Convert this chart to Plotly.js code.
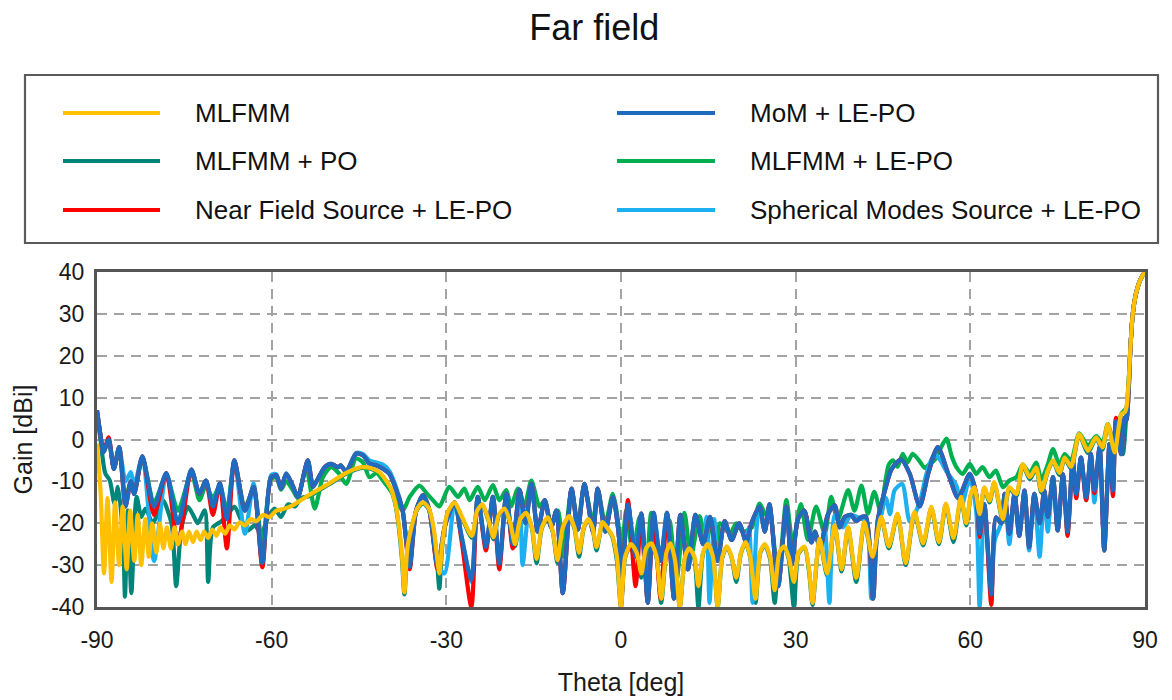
<!DOCTYPE html>
<html>
<head>
<meta charset="utf-8">
<script src="https://cdn.plot.ly/plotly-3.0.1.min.js"></script>
<style>html,body{margin:0;padding:0;background:#fff;}#chart{width:1172px;height:700px;}</style>
</head>
<body>
<div id="chart"></div>
<script>
// ---------------- DATA ----------------
const seriesNames = ['MLFMM', 'MLFMM + PO', 'Near Field Source + LE-PO',
                     'MoM + LE-PO', 'MLFMM + LE-PO', 'Spherical Modes Source + LE-PO'];
const xTickVals = [-90, -60, -30, 0, 30, 60, 90];
const yTickVals = [-40, -30, -20, -10, 0, 10, 20, 30, 40];

// MLFMM (yellow)
const thetaMLFMM = [
-90.0,-89.4,-88.8,-88.2,-87.5,-86.9,-86.2,-85.6,-84.9,-84.3,
-83.6,-83.0,-82.4,-81.7,-81.1,-80.5,-79.8,-79.2,-78.6,-78.0,
-77.3,-76.7,-76.1,-75.4,-74.8,-74.2,-73.5,-72.9,-72.2,-71.6,
-70.9,-70.2,-69.5,-68.8,-68.0,-67.2,-66.4,-65.5,-64.6,-63.6,
-62.6,-61.5,-60.4,-59.2,-58.0,-56.5,-55.0,-53.5,-52.0,-50.5,
-49.0,-47.5,-46.0,-44.5,-43.0,-41.5,-40.5,-39.6,-38.8,-38.2,
-37.6,-37.2,-36.7,-36.0,-35.0,-34.0,-33.0,-32.2,-31.6,-31.2,
-30.7,-29.8,-28.6,-27.3,-25.6,-24.7,-23.8,-22.8,-21.9,-21.0,
-20.0,-19.0,-18.2,-17.3,-16.3,-15.3,-14.5,-13.6,-12.6,-11.7,
-10.9,-10.0,-8.9,-8.0,-7.2,-6.4,-5.6,-4.9,-4.2,-3.7,
-3.2,-2.4,-1.5,-0.7,0.0,0.7,1.7,2.7,3.5,4.3,
5.2,6.1,6.9,7.8,8.5,9.3,10.1,11.0,11.7,12.6,
13.3,14.1,14.9,15.8,16.6,17.4,18.2,19.0,19.8,20.6,
21.4,22.2,23.1,23.9,24.7,25.6,26.4,27.2,28.0,28.8,
29.7,30.5,31.5,32.3,32.9,34.1,35.4,36.7,37.9,39.0,
40.4,41.8,43.2,44.7,46.0,47.5,48.9,50.4,51.9,53.3,
54.6,55.8,57.1,58.4,59.3,60.1,60.7,61.6,62.4,63.3,
64.1,65.6,66.7,67.9,69.0,70.2,71.3,72.2,73.3,74.2,
75.3,76.2,77.3,78.7,80.2,81.6,82.7,83.6,84.8,85.9,
86.5,86.8,87.2,87.5,87.9,88.4,89.0,89.5,90.0];
const gainMLFMM = [
-1,-12,-32,-14,-34,-15,-30,-16,-31,-17,
-29,-18,-30,-19,-28,-20,-27,-20,-26,-21,
-26,-21,-25,-22,-25,-22,-24.5,-22,-24,-22,
-23.5,-21.5,-23,-21,-22.5,-20.5,-21.5,-19.8,-20.5,-19,
-19.5,-18,-18.5,-17,-16.6,-15.8,-14.5,-13.2,-12,-10.8,
-9.5,-8.2,-7.2,-6.6,-6.8,-7.8,-9.5,-11.5,-15,-20,
-28,-36.5,-26,-21,-16.5,-15,-16.5,-21,-28,-32,
-25,-17.5,-15,-18.5,-23,-17,-15.5,-19,-23.3,-18,
-16.5,-20,-25,-19,-17.5,-21,-28.5,-21,-18.6,-22,
-28.8,-21,-18.3,-21,-27,-21,-19,-21,-25.7,-23,
-19.7,-21,-23,-28,-40,-28,-25,-27,-32,-26,
-24.8,-28,-38,-27,-24.8,-29,-40,-28,-26,-28,
-35,-27,-25,-28,-40,-28,-25.5,-28,-33,-27,
-24.5,-28,-38,-27,-25,-28,-36,-27,-25.5,-28,
-34,-27,-25.6,-31,-39,-23.7,-32,-20.5,-31,-20.9,
-33,-19.7,-28,-18.5,-25.5,-17.7,-29.5,-17.3,-24.8,-16.1,
-24.5,-15.3,-23.5,-13.7,-20,-13,-11.4,-17.8,-11.4,-14.6,
-10.2,-19,-11.4,-13,-5.9,-9,-6.7,-12.2,-7.5,-5,
-8,-4.3,-6.5,1.3,-2.7,0.5,-1.9,3.7,-3.1,6,
6.5,7.6,14,22,30,34.5,37.5,39,40];

// MLFMM + PO (teal)
const thetaMLFMMPO = [
-90.0,-89.4,-88.6,-87.8,-87.0,-86.4,-85.5,-85.2,-84.7,-84.1,
-83.2,-82.4,-81.7,-81.2,-80.5,-79.8,-78.7,-77.2,-76.4,-75.5,
-74.4,-73.5,-72.7,-71.5,-70.9,-70.1,-68.6,-67.5,-66.4,-65.2,
-64.1,-62.9,-61.8,-60.6,-59.5,-58.4,-57.2,-56.0,-55.0,-53.5,
-52.0,-50.5,-49.0,-47.5,-46.0,-44.5,-43.0,-41.5,-40.5,-39.6,
-38.8,-38.2,-37.6,-37.2,-36.7,-36.0,-35.0,-34.0,-33.0,-32.2,
-31.6,-31.2,-30.7,-29.8,-28.6,-27.3,-25.6,-24.7,-23.8,-22.8,
-21.9,-21.0,-20.0,-19.0,-18.2,-17.3,-16.3,-15.3,-14.5,-13.6,
-12.6,-11.7,-10.9,-10.0,-8.9,-8.0,-7.2,-6.4,-5.6,-4.9,
-4.2,-3.7,-3.2,-2.4,-1.5,-0.7,0.0,0.7,1.7,2.7,
3.5,4.3,5.2,6.1,6.9,7.8,8.5,9.3,10.1,11.0,
11.7,12.6,13.3,14.1,14.9,15.8,16.6,17.4,18.2,19.0,
19.8,20.6,21.4,22.2,23.1,23.9,24.7,25.6,26.4,27.2,
28.0,28.8,29.7,30.5,31.5,32.3,32.9,34.1,35.4,36.7,
37.9,39.0,40.4,41.8,43.2,44.7,46.0,47.5,48.9,50.4,
51.9,53.3,54.6,55.8,57.1,58.4,59.3,60.1,60.7,61.6,
62.4,63.3,64.1,65.6,66.7,67.9,69.0,70.2,71.3,72.2,
73.3,74.2,75.3,76.2,77.3,78.7,80.2,81.6,82.7,83.6,
84.8,85.5,86.2,86.8,87.2,87.5,87.9,88.4,89.0,89.5,
90.0];
const gainMLFMMPO = [
6,0,-8,-9.8,-15.3,-11.3,-24,-37.5,-17,-36.7,
-13.7,-18.5,-16.5,-17.7,-20,-18.5,-14.5,-20,-35,-21,
-16.1,-18,-20,-16.9,-34,-21,-19.5,-17.7,-16.1,-19.3,
-21.7,-20.5,-22.5,-18.5,-16.5,-18.5,-15.5,-16,-14,-13.5,
-12.2,-11,-9.7,-8.4,-7.4,-6.8,-7,-8,-9.7,-11.7,
-15.2,-20.5,-29,-37,-26.5,-21.2,-16.7,-15.2,-16.7,-21.5,
-29,-35.6,-25.5,-17.7,-15.2,-18.7,-23.5,-17.2,-15.7,-19.2,
-23.8,-18.2,-16.7,-20.2,-25.5,-19.2,-17.7,-21.2,-29.6,-21.2,
-18.8,-22.2,-29.5,-21.2,-18.5,-21.2,-28,-21.2,-19.2,-21.2,
-26.5,-23.2,-19.9,-21.2,-23.2,-29,-40,-28.2,-25.2,-27.2,
-33,-26.2,-25,-28.2,-39,-27.2,-25,-29.2,-40,-28.2,
-26.2,-28.5,-40,-27.2,-25.2,-28.2,-40,-28.2,-25.7,-28.2,
-34,-27.2,-24.7,-28.2,-39,-27.2,-25.2,-28.5,-39,-27.2,
-25.7,-28.5,-40,-27.2,-25.8,-31.5,-39.5,-23.9,-32.5,-20.7,
-31.5,-21.1,-34,-19.9,-28.5,-18.7,-26,-17.9,-30,-17.5,
-25.3,-16.3,-25,-15.5,-24.5,-13.9,-20.5,-13.2,-11.6,-18.3,
-11.6,-15,-10.4,-19.5,-11.6,-13.5,-6.1,-9.5,-6.9,-12.7,
-7.7,-5.2,-8.5,-4.5,-7,1.1,-3.2,0.3,-2.4,3.5,
-2,3,-3.5,6,14,22,30,34.5,37.5,39,
40];

// MoM + LE-PO (blue); Near Field Source + LE-PO (red) uses the same theta samples
const thetaMoM = [
-90.0,-89.4,-88.9,-88.0,-87.1,-86.2,-85.1,-84.2,-83.6,-82.2,
-80.2,-78.1,-76.1,-73.8,-72.4,-71.3,-70.1,-68.9,-67.7,-66.4,
-64.6,-63.1,-61.6,-60.1,-59.2,-58.4,-57.5,-56.4,-55.5,-53.8,
-52.9,-52.1,-50.9,-49.8,-48.6,-48.1,-47.2,-45.5,-44.3,-43.2,
-42.0,-40.9,-39.8,-38.6,-37.5,-36.3,-35.2,-34.0,-32.9,-31.5,
-30.3,-28.6,-27.4,-25.7,-24.6,-23.2,-22.0,-20.9,-19.7,-18.6,
-17.4,-16.4,-15.4,-14.3,-13.1,-12.0,-11.1,-10.0,-8.5,-7.4,
-6.3,-4.8,-4.0,-2.7,-1.4,-0.3,0.0,1.2,2.5,3.5,
4.6,5.6,6.8,7.9,9.1,10.2,11.5,12.8,14.1,15.3,
16.6,17.8,19.0,20.3,21.5,22.4,23.8,24.7,25.5,27.0,
28.4,29.3,30.4,31.5,32.7,33.3,34.2,35.5,36.7,37.6,
38.4,39.5,40.4,41.3,42.1,43.3,44.1,45.5,46.5,48.1,
49.6,51.3,52.8,54.4,56.4,57.9,59.9,61.0,61.6,62.4,
63.6,64.4,65.3,65.9,66.7,67.6,68.4,69.3,70.1,71.0,
71.9,72.7,73.3,74.2,75.0,75.9,76.7,77.6,78.2,79.0,
79.9,80.7,81.3,82.2,83.0,83.9,84.5,85.0,85.9,86.5,
86.8,87.2,87.5,87.9,88.4,89.0,89.5,90.0];
const gainMoM = [
7,1,-3,0,-7,-1.8,-16,-10,-13,-4,
-16,-8,-20,-7.2,-13,-9.8,-16,-10.5,-19,-5,
-17,-11.3,-29.5,-9,-8.6,-11.7,-8.2,-11,-13.7,-5,
-11.3,-9.5,-6.6,-5.8,-6.6,-6.2,-7.8,-3.4,-3.8,-5.8,
-6.2,-7,-8.2,-12.1,-17,-30.4,-17,-13.3,-17,-30.4,
-21,-15,-23,-33.5,-13.7,-25.6,-13.7,-29.6,-13,-25,
-12,-20,-10.6,-22,-14.5,-21,-17,-36.7,-11.7,-21.5,
-10.6,-22,-11.7,-22,-13.7,-24,-39,-15.5,-28,-17.7,
-39,-17.5,-29,-17.5,-38,-18,-31,-18,-25,-18.5,
-29,-19.5,-24,-20,-24.5,-20,-16,-22,-15.5,-35,
-16,-30,-19,-17,-24.6,-22,-26,-18,-15.7,-21,
-18.5,-18,-19.5,-18.5,-18.5,-38,-19.3,-11.3,-7,-4.8,
-8.2,-16,-8,-1.8,-9,-14,-8.2,-13,-22.5,-15.4,
-37,-18.6,-20,-13,-22.5,-13,-23,-12.2,-25.7,-13,
-20,-12.2,-18.5,-9,-21.7,-8.3,-22,-5,-13,-4.3,
-13.8,-3.5,-12.2,-1.9,-26.5,-1.1,-12.2,4.4,-3.5,5.2,
4.5,12,22,30,34.5,37.5,39,40];
const gainNearField = [
7,1,-3,0.5,-7,-1.8,-16,-10,-13,-4,
-18,-8,-25,-7.2,-13,-9.8,-18,-10.5,-26,-5,
-17,-11.3,-30.5,-9,-8.6,-11.7,-8.2,-11,-13.7,-5,
-11.3,-9.5,-6.6,-5.8,-6.6,-6.2,-7.8,-3.4,-3.8,-5.8,
-6.2,-7,-8.2,-12.1,-17,-31,-17,-13.3,-17,-31,
-21,-15,-24,-40,-13.7,-26.5,-13.7,-31,-13,-26,
-12,-20,-10.6,-22,-14.5,-21,-17,-36.7,-11.7,-21.5,
-10.6,-22,-11.7,-22,-13.7,-24,-39.5,-14.5,-35,-17.7,
-39,-17.5,-38,-17.5,-38,-18,-31,-18,-25,-18.5,
-29,-19.5,-24,-20,-24.5,-20,-16,-22,-15.5,-35,
-16,-30,-19,-17,-24.6,-22,-26,-18,-15.7,-21,
-18.5,-18,-19.5,-18.5,-18.5,-38,-19.3,-11.3,-7,-4.8,
-8.2,-16,-8,-1.8,-9,-14,-8.2,-13,-23.3,-15.4,
-39.5,-18.6,-20,-13,-22.5,-13,-23,-12.2,-25.7,-13,
-20,-12.2,-18.5,-9,-21.7,-8.3,-23,-5,-14,-4.3,
-14.5,-3.5,-12.8,-1.9,-26.5,-1.1,-13.5,5.2,-3.5,5.2,
4.5,12,22,30,34.5,37.5,39,40];

// Spherical Modes Source + LE-PO (light blue)
const thetaSpherical = [
-90.0,-89.4,-88.9,-88.0,-87.1,-86.2,-85.1,-84.2,-83.6,-82.2,
-80.2,-78.1,-76.1,-73.8,-72.4,-71.3,-70.1,-68.9,-67.7,-66.4,
-64.6,-63.1,-61.6,-60.1,-59.2,-58.4,-57.5,-56.4,-55.5,-53.8,
-52.9,-52.1,-50.9,-49.8,-48.6,-48.1,-47.2,-45.5,-44.3,-43.2,
-42.0,-40.9,-39.8,-38.6,-37.5,-36.3,-35.2,-34.0,-32.9,-31.5,
-30.3,-28.6,-27.4,-25.7,-24.6,-23.2,-22.0,-20.9,-19.7,-18.6,
-17.4,-16.9,-15.4,-14.3,-13.1,-12.0,-11.1,-10.0,-8.5,-7.4,
-6.3,-4.8,-4.0,-2.7,-1.4,-0.3,0.0,1.2,2.5,3.5,
4.6,5.6,6.8,7.9,9.1,10.2,11.5,12.8,14.1,14.7,
15.2,16.0,16.6,17.8,19.0,20.3,21.5,22.0,22.6,23.3,
23.8,24.7,25.5,27.0,28.4,29.3,30.4,31.5,32.7,33.3,
34.2,35.0,35.8,36.7,38.1,39.5,41.3,42.1,43.0,44.1,
45.5,46.2,47.0,48.3,49.6,51.3,52.5,53.8,54.8,55.9,
57.6,58.5,59.9,61.0,61.6,62.4,63.6,64.2,65.3,65.9,
66.7,67.6,68.4,69.3,70.1,71.0,71.9,72.7,73.3,74.2,
75.0,75.9,76.7,77.6,78.2,79.0,79.9,80.7,81.3,82.2,
83.0,83.9,84.5,85.0,85.9,86.5,86.8,87.2,87.5,87.9,
88.4,89.0,89.5,90.0];
const gainSpherical = [
7,1,-3,0,-7,-1.8,-10,-7.8,-11,-4,
-29,-8,-20,-7.2,-13,-9.8,-16,-10.5,-19,-5,
-22.5,-10.5,-29.5,-8.5,-8.3,-11.5,-8,-11,-13.7,-5,
-11,-9.5,-6.6,-5.8,-6.6,-6.2,-7.5,-3.2,-3.5,-5,
-5.5,-6,-7.5,-11.5,-17,-30,-17,-13.3,-17,-30,
-32,-15,-23,-34,-13.7,-25.6,-13.7,-29.6,-13,-25,
-12,-30,-10.6,-22,-14.5,-21,-17,-36.7,-11.7,-21.5,
-10.6,-22,-11.7,-22,-13.7,-24,-39,-15.5,-28,-17.7,
-39,-17.5,-29,-17.5,-38,-18,-31,-18,-25,-18.5,
-39,-19,-29,-19.5,-24,-20,-24.5,-21,-39,-21,
-16,-22,-15.5,-35,-16,-30,-19,-17,-24.6,-22,
-26,-21.7,-39,-18,-21,-18,-19,-19,-38,-22,
-14,-17.8,-12.1,-10.6,-19.6,-15,-8,-3.5,-4.9,-7.6,
-11,-16,-9,-17,-40,-15.4,-37,-24,-20,-13,
-25,-13,-23,-12.2,-26.5,-13,-28,-12.2,-22,-9,
-21.7,-8.3,-22,-5,-13,-4.3,-14.5,-3.5,-15,-1.9,
-26.5,-1.1,-12.2,4.4,-3.5,5.2,4.5,12,22,30,
34.5,37.5,39,40];

// MLFMM + LE-PO (green)
const thetaMLFMMLEPO = [
-90.0,-89.4,-88.9,-88.0,-87.1,-86.2,-85.1,-84.2,-83.6,-82.2,
-80.2,-78.1,-76.1,-73.8,-72.4,-71.3,-70.1,-68.9,-67.7,-66.4,
-64.6,-63.1,-61.6,-60.1,-59.2,-58.4,-57.5,-56.4,-55.5,-54.1,
-52.6,-51.2,-49.8,-48.5,-47.2,-45.5,-44.3,-43.2,-42.0,-40.9,
-39.2,-37.5,-36.3,-34.6,-33.3,-32.3,-31.2,-29.5,-28.0,-26.9,
-26.0,-24.6,-23.4,-22.0,-20.9,-19.7,-18.9,-17.7,-16.6,-15.4,
-14.0,-13.1,-12.0,-10.8,-10.0,-8.5,-7.4,-6.3,-4.8,-4.0,
-2.7,-1.4,-0.3,0.0,0.9,2.0,3.2,4.3,5.2,6.6,
8.3,9.5,10.9,12.0,13.5,14.6,15.6,16.4,17.0,18.7,
19.8,20.9,22.5,23.8,24.9,25.5,27.0,28.4,29.5,30.9,
32.1,33.5,35.0,36.1,37.2,39.0,40.1,41.3,42.4,43.5,
44.7,45.2,46.0,46.7,47.5,48.4,49.2,50.1,51.3,52.2,
53.0,53.8,54.7,55.9,56.8,57.6,58.7,59.9,61.0,62.1,
63.3,64.4,65.6,66.7,67.9,69.0,70.2,71.3,72.2,73.3,
74.2,75.3,76.2,77.3,78.7,80.2,81.6,82.7,83.6,84.8,
85.9,86.8,87.2,87.5,87.9,88.4,89.0,89.5,90.0];
const gainMLFMMLEPO = [
6,1,-3,-0.5,-7,-2.5,-14,-10,-12.5,-4.5,
-15,-8.5,-17,-8,-14.5,-11,-14,-11,-17,-5.5,
-16,-12,-25,-9.5,-9,-12,-10,-12,-14,-6.6,
-16.5,-9,-6.6,-8,-10.6,-4.5,-5.5,-9,-8,-9.8,
-13,-17,-13.7,-11,-13,-14.5,-16,-11.3,-13.7,-11.7,
-14.5,-11.3,-14.5,-10.9,-14.5,-12.1,-16,-11.7,-16,-9.8,
-16,-14.5,-20,-17,-28,-12,-20,-11,-20,-12,
-20,-13,-22,-30,-16.9,-27,-18.5,-32,-17.5,-28,
-19.3,-34,-17.5,-28,-18.3,-25,-19,-28,-20,-22.5,
-20,-22,-21,-15.3,-18,-17,-33,-14.5,-25,-15.4,
-24,-16,-22.5,-13.7,-19.3,-12.1,-17,-11,-17.7,-12.5,
-18,-12,-6,-5,-6.5,-3.4,-5.5,-3.4,-5.2,-6.8,
-5.8,-5,-2.6,0.2,-4,-6.6,-8.2,-5.8,-8.2,-6.6,
-9,-7.4,-11.4,-9.8,-9,-6,-8,-5.5,-9.5,-6,
-2.3,-6,-3.5,-5,1.5,-1.5,0.8,-0.8,3.7,-2,
6,7.6,14,22,30,34.5,37.5,39,40];

// ---------------- STYLE ----------------
const FONT = 'Liberation Sans, Arial, Helvetica, sans-serif';
const colors = {
  'MLFMM': '#FFC000',
  'MLFMM + PO': '#00857A',
  'Near Field Source + LE-PO': '#FF0000',
  'MoM + LE-PO': '#1F6BBF',
  'MLFMM + LE-PO': '#00B050',
  'Spherical Modes Source + LE-PO': '#1CB0F0'
};
const LW = 4.2;

function mk(name, x, y) {
  return {type: 'scatter', mode: 'lines', name: name, x: x, y: y,
          line: {color: colors[name], width: LW, shape: 'spline', smoothing: 0.7},
          showlegend: false, hoverinfo: 'skip'};
}
// drawing order: bottom -> top
const traces = [
  mk(seriesNames[1], thetaMLFMMPO, gainMLFMMPO),
  mk(seriesNames[4], thetaMLFMMLEPO, gainMLFMMLEPO),
  mk(seriesNames[5], thetaSpherical, gainSpherical),
  mk(seriesNames[2], thetaMoM, gainNearField),
  mk(seriesNames[3], thetaMoM, gainMoM),
  mk(seriesNames[0], thetaMLFMM, gainMLFMM)
];

// plot-area geometry in pixels, used to place the hand-made legend
const PL = 97, PR = 1145, PT = 272, PB = 607;
const px = v => (v - PL) / (PR - PL);
const py = v => (PB - v) / (PB - PT);

const legendCols = [
  {lineX0: 63, lineX1: 160, textX: 193, items: [seriesNames[0], seriesNames[1], seriesNames[2]]},
  {lineX0: 617, lineX1: 715, textX: 748, items: [seriesNames[3], seriesNames[4], seriesNames[5]]}
];
const legendRowsY = [113, 161, 210];

const shapes = [{
  type: 'rect', xref: 'paper', yref: 'paper',
  x0: px(25), x1: px(1158), y0: py(243), y1: py(75),
  line: {color: '#5a5a5a', width: 2.2}, fillcolor: 'rgba(0,0,0,0)'
}];
const annotations = [];
legendCols.forEach(col => {
  col.items.forEach((nm, i) => {
    const yy = py(legendRowsY[i]);
    shapes.push({type: 'line', xref: 'paper', yref: 'paper',
      x0: px(col.lineX0), x1: px(col.lineX1), y0: yy, y1: yy,
      line: {color: colors[nm], width: 4}});
    annotations.push({xref: 'paper', yref: 'paper', x: px(col.textX), y: yy,
      xanchor: 'left', yanchor: 'middle', showarrow: false, text: nm,
      font: {family: FONT, size: 26, color: '#111'}});
  });
});

const axisCommon = {
  showgrid: true, gridcolor: '#a3a3a3', gridwidth: 2, griddash: '10px,7px',
  zeroline: false, showline: true, mirror: true, linecolor: '#555', linewidth: 3,
  ticks: '', fixedrange: true, tickfont: {family: FONT, size: 23, color: '#1a1a1a'}
};

const layout = {
  width: 1172, height: 700,
  paper_bgcolor: '#ffffff', plot_bgcolor: '#ffffff',
  margin: {l: PL, r: 1172 - PR, t: PT, b: 700 - PB, pad: 0},
  font: {family: FONT, color: '#1a1a1a'},
  title: {text: 'Far field', xref: 'container', yref: 'container',
          x: 0.507, y: 1 - 27 / 700, xanchor: 'center', yanchor: 'middle',
          font: {family: FONT, size: 36, color: '#111'}},
  xaxis: Object.assign({}, axisCommon, {
    range: [-90, 90], tickvals: xTickVals, ticktext: xTickVals.map(String),
    ticklabelstandoff: 10,
    title: {text: 'Theta [deg]', standoff: 22, font: {family: FONT, size: 25, color: '#1a1a1a'}}
  }),
  yaxis: Object.assign({}, axisCommon, {
    range: [-40, 40], tickvals: yTickVals, ticktext: yTickVals.map(String),
    ticklabelstandoff: 5,
    title: {text: 'Gain [dBi]', standoff: 12, font: {family: FONT, size: 25, color: '#1a1a1a'}}
  }),
  shapes: shapes,
  annotations: annotations,
  showlegend: false
};

Plotly.newPlot('chart', traces, layout, {staticPlot: true, displayModeBar: false});
</script>
</body>
</html>
